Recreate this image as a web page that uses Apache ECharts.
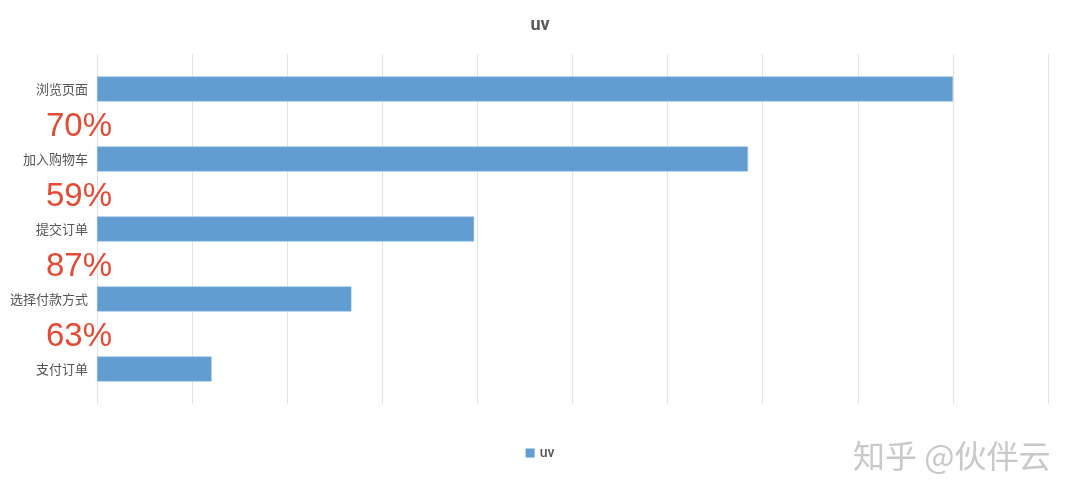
<!DOCTYPE html>
<html>
<head>
<meta charset="utf-8">
<script src="https://cdn.jsdelivr.net/npm/echarts@6/dist/echarts.min.js"></script>
<style>html,body{margin:0;padding:0;background:#fff}#c{width:1080px;height:499px}</style>
</head>
<body>
<div id="c"></div>
<script>
var categories = ['浏览页面', '加入购物车', '提交订单', '选择付款方式', '支付订单'];
var uvValues = [9000, 6845, 3965, 2675, 1205];
var stepRates = ['70%', '59%', '87%', '63%'];
var seriesName = 'uv';

var chart = echarts.init(document.getElementById('c'));
chart.setOption({
  animation: false,
  backgroundColor: '#ffffff',
  title: {
    text: 'uv', left: 'center', top: 11,
    textStyle: { fontFamily: 'Roboto, "Noto Sans", sans-serif', fontSize: 18, fontWeight: 'bold', color: '#5a5a5a' }
  },
  legend: {
    bottom: 34, left: 'center', icon: 'rect', itemWidth: 9, itemHeight: 9, itemGap: 6,
    itemStyle: { borderWidth: 0 },
    textStyle: { fontFamily: 'Roboto, "Noto Sans", sans-serif', fontSize: 14, color: '#555', fontWeight: 500 },
    data: [seriesName]
  },
  grid: { left: 97, right: 32, top: 54, bottom: 95, containLabel: false },
  xAxis: {
    type: 'value', min: 0, max: 10000, interval: 1000,
    axisLine: { show: false }, axisTick: { show: false }, axisLabel: { show: false },
    splitLine: { show: true, lineStyle: { color: '#e3e3e3', width: 1 } }
  },
  yAxis: {
    type: 'category', data: categories, inverse: true,
    axisLine: { show: false }, axisTick: { show: false },
    axisLabel: { color: '#555', fontSize: 13, margin: 9, fontFamily: '"Noto Sans CJK SC", sans-serif' }
  },
  series: [{
    name: seriesName, type: 'bar', data: uvValues, barWidth: 25,
    itemStyle: { color: '#629dd2', borderColor: '#8fbbe4', borderWidth: 0.5 }
  }]
});

var graphics = [];
for (var i = 0; i < stepRates.length; i++) {
  var y1 = chart.convertToPixel({ yAxisIndex: 0 }, categories[i]);
  var y2 = chart.convertToPixel({ yAxisIndex: 0 }, categories[i + 1]);
  graphics.push({
    type: 'text', x: 79, y: (y1 + y2) / 2 + 3,
    style: {
      text: stepRates[i], fill: '#e54a35', font: '33px "Liberation Sans", Arial, sans-serif',
      textAlign: 'center', textVerticalAlign: 'middle'
    }
  });
}
graphics.push({
  type: 'text', x: 853, y: 456,
  style: {
    text: '知乎 @伙伴云', fill: '#c9c9c9', font: '32px "Noto Sans CJK SC", sans-serif',
    textAlign: 'left', textVerticalAlign: 'middle'
  }
});
chart.setOption({ graphic: graphics });
</script>
</body>
</html>
